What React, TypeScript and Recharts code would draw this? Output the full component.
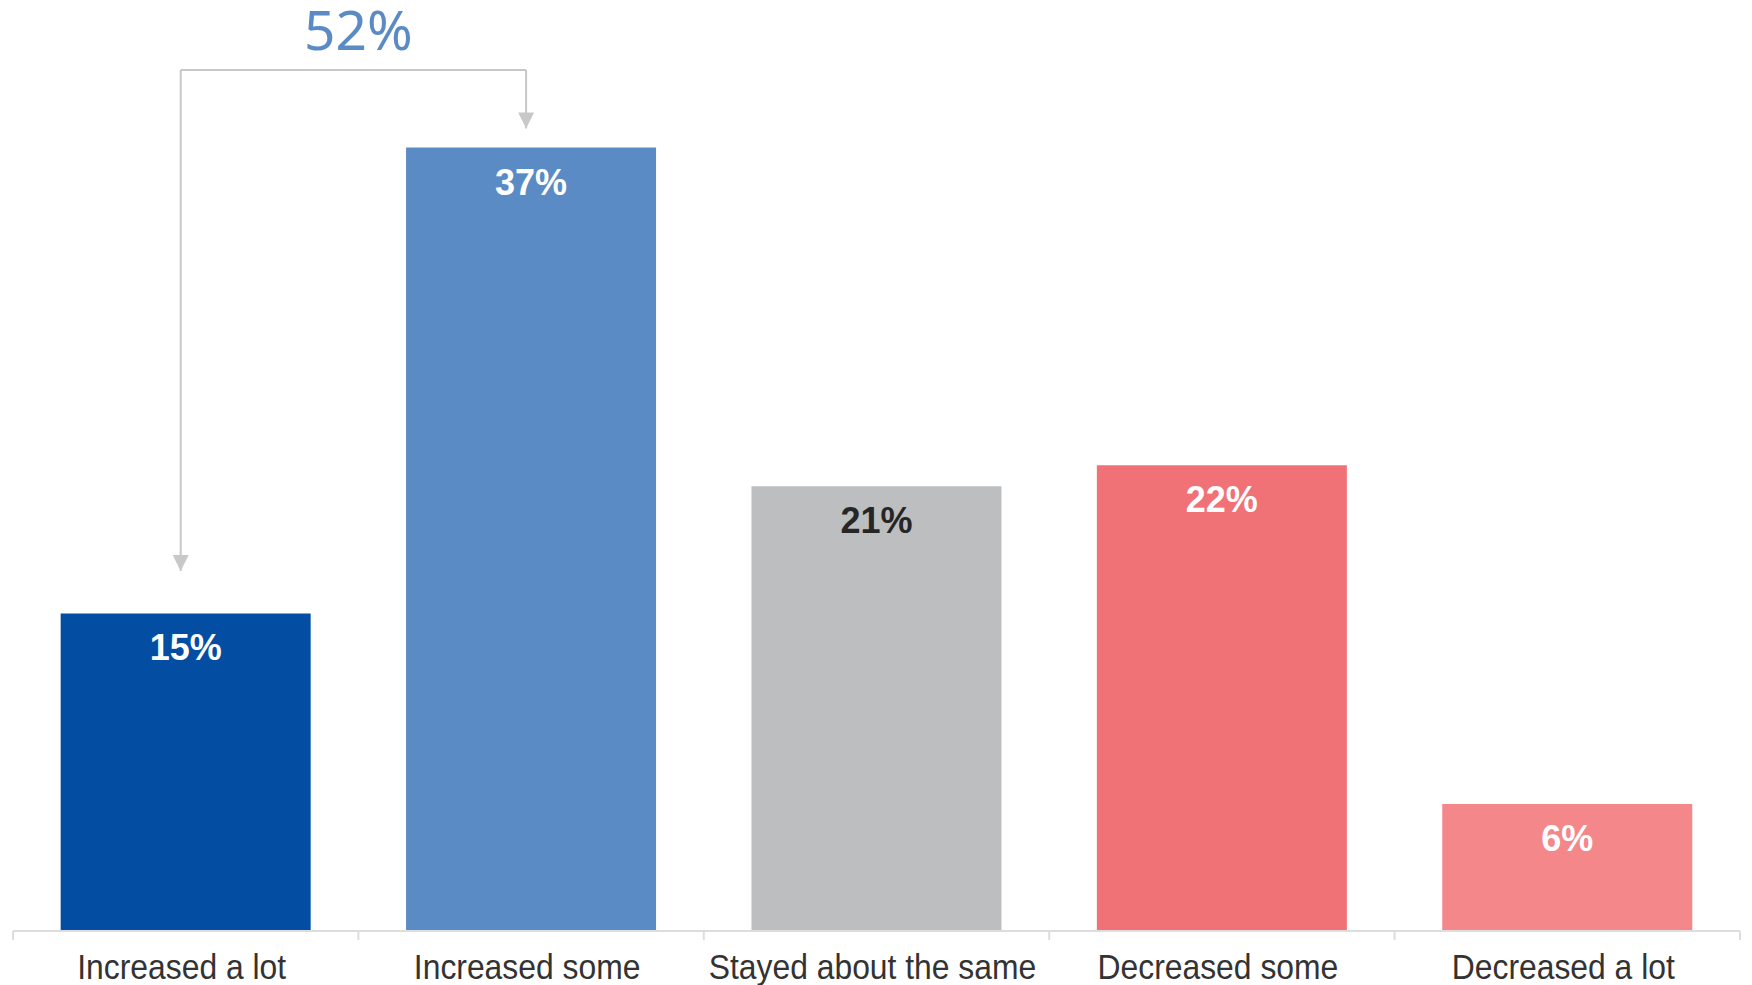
import { BarChart, Bar, XAxis, YAxis, Cell, LabelList, ReferenceLine } from 'recharts'

const categories = [
  'Increased a lot',
  'Increased some',
  'Stayed about the same',
  'Decreased some',
  'Decreased a lot',
]
const shares = [15, 37, 21, 22, 6]

const barColors = ['#034EA2', '#5B8BC4', '#BDBEC0', '#F07176', '#F3878A']
const labelColors = ['#FFFFFF', '#FFFFFF', '#262626', '#FFFFFF', '#FFFFFF']

// bracket over the first two bars (y in chart units)
const bracketTop = 40.66
const leftArrowEnd = 17
const rightArrowEnd = 37.9

const data = categories.map((name, i) => ({ name, value: shares[i] }))
const combined = shares[0] + shares[1]

const FONT = '"Liberation Sans", Arial, sans-serif'
const GREY = '#C8C8C8'

function AxisTick(props: any) {
  const { x, y, payload, index, width } = props
  const half = payload?.offset ? payload.offset : width / categories.length / 2
  const last = index === categories.length - 1
  return (
    <g>
      <line x1={x - half} x2={x - half} y1={y} y2={y + 9} stroke="#DDDDDD" strokeWidth={2} />
      {last && <line x1={x + half} x2={x + half} y1={y} y2={y + 9} stroke="#DDDDDD" strokeWidth={2} />}
      <text
        transform={`translate(${x - 4},${y + 48}) scale(0.91,1)`}
        textAnchor="middle"
        fontFamily={FONT}
        fontSize={35}
        fill="#333333"
      >
        {payload.value}
      </text>
    </g>
  )
}

function BarValue(props: any) {
  const { x, y, width, value, index } = props
  return (
    <text
      x={x + width / 2}
      y={y + 47}
      textAnchor="middle"
      fontFamily={FONT}
      fontWeight="bold"
      fontSize={36}
      fill={labelColors[index]}
    >
      {`${value}%`}
    </text>
  )
}

const bracketLine = (arrow: boolean) => (p: any) => (
  <line
    x1={p.x1 - 5}
    y1={p.y1}
    x2={p.x2 - 5}
    y2={p.y2}
    stroke={GREY}
    strokeWidth={2}
    markerEnd={arrow ? 'url(#bracketArrow)' : undefined}
  />
)

export default function App() {
  return (
    <div style={{ position: 'fixed', top: 0, left: 0, background: '#fff' }}>
      <BarChart
        width={1752}
        height={985}
        data={data}
        margin={{ top: 84, right: 12, left: 13, bottom: 0 }}
        barCategoryGap="13.8%"
      >
        <defs>
          <marker
            id="bracketArrow"
            markerUnits="userSpaceOnUse"
            markerWidth={16}
            markerHeight={16}
            viewBox="0 0 16 16"
            refX={16}
            refY={8}
            orient="auto"
          >
            <path d="M0,0 L16,8 L0,16 z" fill={GREY} />
          </marker>
        </defs>
        <XAxis
          dataKey="name"
          height={54}
          axisLine={{ stroke: '#DDDDDD', strokeWidth: 2 }}
          tickLine={false}
          tickSize={0}
          tickMargin={0}
          interval={0}
          tick={<AxisTick />}
        />
        <YAxis hide domain={[0, 40]} />
        <Bar dataKey="value" isAnimationActive={false}>
          {data.map((d, i) => (
            <Cell key={d.name} fill={barColors[i]} />
          ))}
          <LabelList dataKey="value" content={<BarValue />} />
        </Bar>
        <ReferenceLine
          ifOverflow="visible"
          segment={[
            { x: categories[0], y: bracketTop },
            { x: categories[1], y: bracketTop },
          ]}
          shape={bracketLine(false)}
          label={(lp: any) => {
            const vb = lp.viewBox
            return (
              <text
                x={vb.x + vb.width / 2}
                y={vb.y - 20}
                textAnchor="middle"
                fontFamily='"Noto Sans", "Open Sans", sans-serif'
                fontSize={55}
                fill="#5B8BC4"
              >
                {`${combined}%`}
              </text>
            )
          }}
        />
        <ReferenceLine
          ifOverflow="visible"
          segment={[
            { x: categories[0], y: bracketTop },
            { x: categories[0], y: leftArrowEnd },
          ]}
          shape={bracketLine(true)}
        />
        <ReferenceLine
          ifOverflow="visible"
          segment={[
            { x: categories[1], y: bracketTop },
            { x: categories[1], y: rightArrowEnd },
          ]}
          shape={bracketLine(true)}
        />
      </BarChart>
    </div>
  )
}
